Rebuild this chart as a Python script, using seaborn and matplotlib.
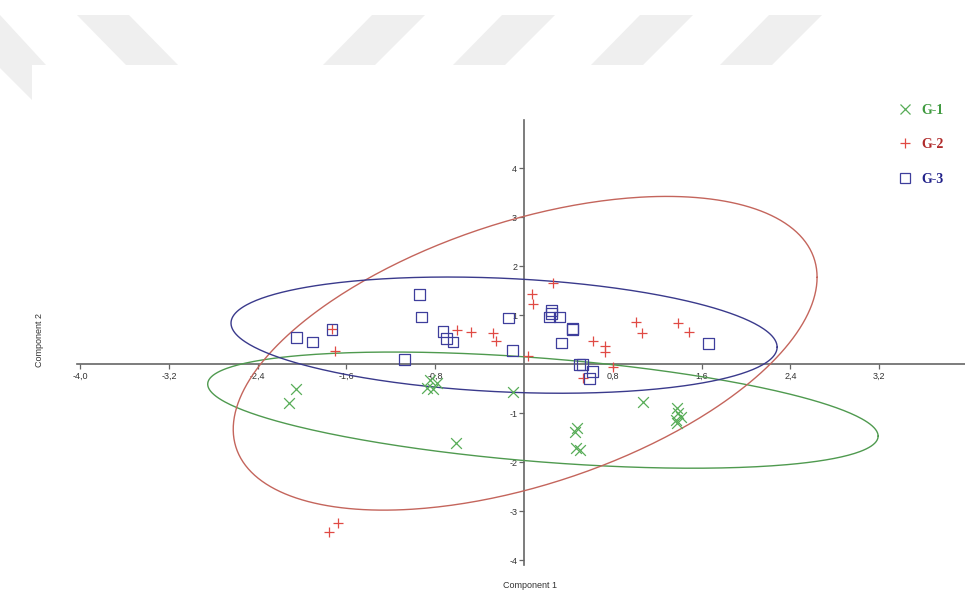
import numpy as np
import pandas as pd
import matplotlib
matplotlib.use("Agg")
import matplotlib.pyplot as plt
import seaborn as sns
from matplotlib.patches import Polygon
from matplotlib.lines import Line2D
from matplotlib.ticker import FixedLocator, FuncFormatter

# ---- PCA scores (Component 1, Component 2) per group ----
groups = ["G-1", "G-2", "G-3"]

g1_x = [-2.05, -2.12, -0.85, -0.78, -0.87, -0.82, -0.61, -0.10, 0.48, 0.46,
        0.47, 0.50, 1.07, 1.38, 1.39, 1.41, 1.37, 1.38]
g1_y = [-0.51, -0.80, -0.33, -0.39, -0.49, -0.51, -1.61, -0.57, -1.31, -1.39,
        -1.71, -1.76, -0.78, -0.90, -1.00, -1.08, -1.14, -1.20]

g2_x = [-1.73, -1.70, -0.60, -0.48, -0.28, -0.25, 0.07, 0.08, 0.26, 0.04,
        0.62, 0.73, 0.73, 0.80, 1.01, 1.06, 1.39, 1.49, 0.53, -1.68, -1.76]
g2_y = [0.71, 0.27, 0.69, 0.65, 0.63, 0.47, 1.43, 1.22, 1.65, 0.16,
        0.47, 0.37, 0.24, -0.06, 0.86, 0.63, 0.84, 0.65, -0.29, -3.24, -3.43]

g3_x = [-2.05, -1.91, -1.73, -1.08, -0.94, -0.92, -0.73, -0.70, -0.64, -0.14,
        -0.10, 0.25, 0.25, 0.23, 0.32, 0.44, 0.44, 0.34, 0.50, 0.53, 0.62,
        0.59, 1.66]
g3_y = [0.55, 0.45, 0.71, 0.10, 1.41, 0.96, 0.67, 0.53, 0.45, 0.94,
        0.27, 1.10, 1.04, 0.96, 0.96, 0.73, 0.71, 0.43, 0.00, 0.00, -0.16,
        -0.29, 0.41]

# ---- group ellipses: centre, horizontal-extreme semi-diameter, vertical half-chord ----
ell_center = {"G-1": (0.17, -0.94), "G-2": (0.01, 0.22), "G-3": (-0.18, 0.59)}
ell_u = {"G-1": (3.02, -0.53), "G-2": (2.63, 1.55), "G-3": (2.46, -0.245)}
ell_v = {"G-1": 1.06, "G-2": 2.80, "G-3": 1.16}

# ---- axis ticks ----
x_ticks = [-4.0, -3.2, -2.4, -1.6, -0.8, 0.8, 1.6, 2.4, 3.2]
y_ticks = [-4, -3, -2, -1, 1, 2, 3, 4]

df = pd.concat([
    pd.DataFrame({"pc1": g1_x, "pc2": g1_y, "group": "G-1"}),
    pd.DataFrame({"pc1": g2_x, "pc2": g2_y, "group": "G-2"}),
    pd.DataFrame({"pc1": g3_x, "pc2": g3_y, "group": "G-3"}),
], ignore_index=True)

marker_color = {"G-1": "#58ad58", "G-2": "#e04a44", "G-3": "#3e3e9c"}
ellipse_color = {"G-1": "#4f9a4f", "G-2": "#c4655c", "G-3": "#3a3a8c"}
label_color = {"G-1": "#3f9a3f", "G-2": "#b02a2a", "G-3": "#22228a"}

sns.set_theme(style="white")
plt.rcParams["font.family"] = ["Liberation Sans", "DejaVu Sans"]

W, H = 965, 596
fig = plt.figure(figsize=(W / 100, H / 100), dpi=100)
fig.patch.set_facecolor("white")

# light diagonal banner across the top
def px_poly(pts, **kw):
    fig.patches.append(Polygon([(x / W, 1 - y / H) for x, y in pts], closed=True,
                               transform=fig.transFigure, **kw))

band = dict(facecolor="#efefef", edgecolor="none", zorder=0)
px_poly([(0, 15), (46, 65), (32, 65), (32, 100), (0, 68)], **band)
px_poly([(77, 15), (129, 15), (178, 65), (126, 65)], **band)
for top_left in (372, 502, 640, 769):
    px_poly([(top_left, 15), (top_left + 53, 15), (top_left + 3, 65), (top_left - 49, 65)], **band)

ax = fig.add_axes([0.0795, 0.052, 0.9225, 0.7467])
ax.patch.set_visible(False)

# ellipses
t = np.linspace(0, 2 * np.pi, 400)
for g in groups:
    cx, cy = ell_center[g]
    ux, uy = ell_u[g]
    vy = ell_v[g]
    ax.plot(cx + ux * np.cos(t), cy + uy * np.cos(t) + vy * np.sin(t),
            color=ellipse_color[g], lw=1.0, zorder=2)

# scatter points
d1 = df[df["group"] == "G-1"]
sns.scatterplot(data=d1, x="pc1", y="pc2", marker="x", s=60,
                color=marker_color["G-1"], linewidth=0.9, ax=ax, legend=False, zorder=3)
d2 = df[df["group"] == "G-2"]
sns.scatterplot(data=d2, x="pc1", y="pc2", marker="+", s=55,
                color=marker_color["G-2"], linewidth=0.9, ax=ax, legend=False, zorder=3)
d3 = df[df["group"] == "G-3"]
sns.scatterplot(data=d3, x="pc1", y="pc2", marker="s", s=62,
                color=marker_color["G-3"], facecolor="none",
                edgecolor=marker_color["G-3"], linewidth=0.9, ax=ax, legend=False, zorder=3)

ax.set_xlim(-4.03, 3.99)
ax.set_ylim(-4.1, 4.98)

# axes crossing at the origin
for side in ("top", "right"):
    ax.spines[side].set_visible(False)
ax.spines["left"].set_position(("data", 0))
ax.spines["bottom"].set_position(("data", 0))
for side in ("left", "bottom"):
    ax.spines[side].set_color("#666666")
    ax.spines[side].set_linewidth(1.2)
    ax.spines[side].set_zorder(1)

ax.xaxis.set_major_locator(FixedLocator(x_ticks))
ax.yaxis.set_major_locator(FixedLocator(y_ticks))
ax.xaxis.set_major_formatter(FuncFormatter(lambda v, p: f"{v:.1f}".replace(".", ",")))
ax.yaxis.set_major_formatter(FuncFormatter(lambda v, p: f"{v:.0f}"))
ax.tick_params(axis="both", direction="out", length=3.5, width=0.9, color="#666666",
               labelsize=6.5, labelcolor="#333333", pad=1.5)
ax.tick_params(axis="x", bottom=True, pad=2.2)
ax.tick_params(axis="y", left=True)
ax.set_xlabel("")
ax.set_ylabel("")
ax.grid(False)

fig.text(530 / W, 1 - 585 / H, "Component 1", ha="center", va="center",
         fontsize=6.5, color="#333333")
fig.text(39 / W, 1 - 340 / H, "Component 2", ha="center", va="center",
         rotation=90, fontsize=6.5, color="#333333")

# legend
handles = [
    Line2D([], [], ls="none", marker="x", markersize=7, mew=0.9, color=marker_color["G-1"]),
    Line2D([], [], ls="none", marker="+", markersize=7.5, mew=0.9, color=marker_color["G-2"]),
    Line2D([], [], ls="none", marker="s", markersize=7, mew=0.9,
           markerfacecolor="none", markeredgecolor=marker_color["G-3"]),
]
leg = ax.legend(handles, groups, frameon=False, loc="upper left",
                bbox_to_anchor=(898 / W, 1 - 103.5 / H), bbox_transform=fig.transFigure,
                borderaxespad=0, borderpad=0, handlelength=1.0, handletextpad=0.7,
                labelspacing=1.55,
                prop={"family": ["Liberation Serif", "DejaVu Serif"], "weight": "bold", "size": 10})
for txt, g in zip(leg.get_texts(), groups):
    txt.set_color(label_color[g])

fig.savefig("out.png", dpi=100, facecolor="white")
